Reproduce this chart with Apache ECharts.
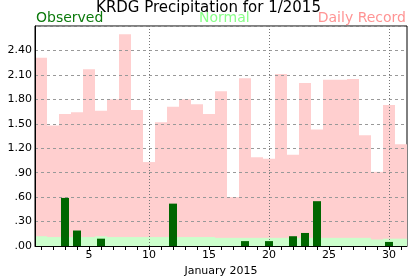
<!DOCTYPE html>
<html>
<head>
<meta charset="utf-8">
<script src="https://cdn.jsdelivr.net/npm/echarts@6/dist/echarts.min.js"></script>
<style>html,body{margin:0;padding:0;background:#fff}#c{width:417px;height:276px}</style>
</head>
<body>
<div id="c"></div>
<script>
const days = Array.from({length: 31}, (_, i) => String(i + 1));
const observed = [0, 0, 0.59, 0.19, 0, 0.09, 0, 0, 0, 0, 0, 0.52, 0, 0, 0, 0, 0, 0.06, 0, 0.06, 0, 0.12, 0.16, 0.55, 0, 0, 0, 0, 0, 0.05, 0];
const normal = [0.12, 0.11, 0.11, 0.11, 0.11, 0.12, 0.11, 0.11, 0.11, 0.11, 0.11, 0.11, 0.11, 0.11, 0.11, 0.10, 0.10, 0.10, 0.10, 0.10, 0.10, 0.10, 0.10, 0.10, 0.10, 0.10, 0.10, 0.10, 0.08, 0.09, 0.09];
const record = [2.31, 1.48, 1.62, 1.64, 2.17, 1.66, 1.80, 2.60, 1.67, 1.03, 1.52, 1.71, 1.80, 1.74, 1.62, 1.90, 0.60, 2.06, 1.09, 1.07, 2.11, 1.12, 2.00, 1.43, 2.04, 2.04, 2.05, 1.36, 0.91, 1.73, 1.25];
const xLabels = ['5', '10', '15', '20', '25', '30'];
const markDays = ['10', '20', '30'];

const FONT = 'DejaVu Sans';
const chart = echarts.init(document.getElementById('c'), null, {renderer: 'canvas'});
chart.setOption({
  animation: false,
  backgroundColor: '#fff',
  title: [
    {text: 'KRDG Precipitation for 1/2015', left: 'center', top: 1, padding: 0,
     textStyle: {fontFamily: FONT, fontSize: 15, fontWeight: 'normal', color: '#000'}},
    {text: 'Observed', left: 36, top: 11, padding: 0,
     textStyle: {fontFamily: FONT, fontSize: 14, fontWeight: 'normal', color: '#0c7a0c'}},
    {text: 'Normal', left: 199, top: 11, padding: 0,
     textStyle: {fontFamily: FONT, fontSize: 14, fontWeight: 'normal', color: '#88ff88'}},
    {text: 'Daily Record', right: 11, top: 11, padding: 0,
     textStyle: {fontFamily: FONT, fontSize: 14, fontWeight: 'normal', color: '#ff9494'}}
  ],
  grid: {left: 35, right: 10, top: 26, bottom: 30, show: true, borderColor: '#000', borderWidth: 1,
         containLabel: false, outerBoundsMode: 'none'},
  xAxis: [{
    type: 'category', data: days, z: 3,
    axisLine: {lineStyle: {color: '#000', width: 1}},
    axisTick: {show: true, interval: 0, alignWithLabel: true, length: 4, lineStyle: {color: '#000'}},
    axisLabel: {interval: 0, margin: 4, fontFamily: FONT, fontSize: 11, color: '#000',
      formatter: v => xLabels.includes(v) ? v : ''},
    splitLine: {show: false},
    name: 'January 2015', nameLocation: 'middle', nameGap: 14,
    nameTextStyle: {fontFamily: FONT, fontSize: 11, color: '#000'}
  }, {
    type: 'category', data: days, show: false
  }],
  yAxis: {
    type: 'value', min: 0, max: 2.7, interval: 0.3, z: 3,
    axisLine: {show: true, lineStyle: {color: '#000'}},
    axisTick: {show: false},
    axisLabel: {margin: 3, fontFamily: FONT, fontSize: 11, color: '#000',
      formatter: v => v > 2.65 ? '' : v.toFixed(2).replace(/^0/, '')},
    splitLine: {show: true, lineStyle: {color: '#999', type: [3, 3], width: 1}}
  },
  series: [
    {name: 'Daily Record', type: 'bar', xAxisIndex: 0, data: record, z: 1,
     barCategoryGap: '0%', barGap: '-100%', itemStyle: {color: '#ffcfcf'}},
    {name: 'Normal', type: 'bar', xAxisIndex: 0, data: normal, z: 1,
     barCategoryGap: '0%', barGap: '-100%', itemStyle: {color: '#ccffcc'}},
    {name: 'Observed', type: 'bar', xAxisIndex: 1, data: observed, z: 5,
     barWidth: 8, itemStyle: {color: '#006600'},
     markLine: {silent: true, symbol: 'none', label: {show: false},
       lineStyle: {color: '#777', type: [1, 2], width: 1},
       data: markDays.map(d => ({xAxis: d}))}}
  ]
});
</script>
</body>
</html>
